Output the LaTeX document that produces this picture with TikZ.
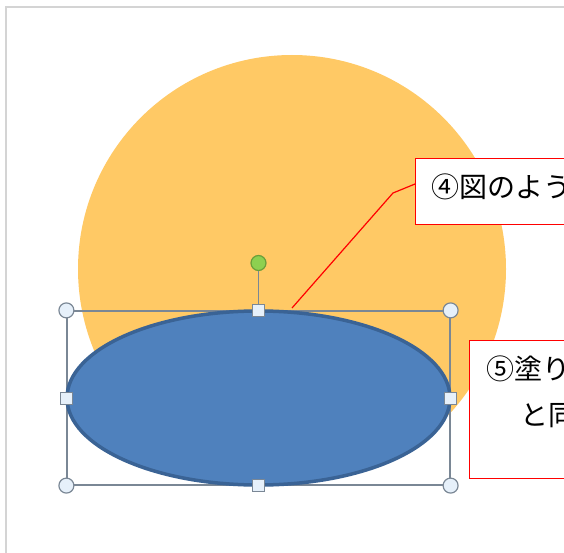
\documentclass[tikz,border=0pt]{standalone}
\usepackage{fontspec}
\newfontfamily\cjk{Noto Sans CJK JP}
\usetikzlibrary{shapes.geometric}
\definecolor{sunorange}{HTML}{FFC965}
\definecolor{ellblue}{HTML}{4F81BD}
\definecolor{ellborder}{HTML}{3A6395}
\definecolor{selgray}{HTML}{7A8795}
\definecolor{handlefill}{HTML}{E6F0FA}
\definecolor{framegray}{HTML}{D4D4D4}
\definecolor{rotgreen}{HTML}{8DD050}
\definecolor{rotborder}{HTML}{6A9E3A}
\tikzset{
  cornerhandle/.style={circle, draw=selgray, fill=handlefill, line width=1.2pt, minimum size=15pt, inner sep=0pt},
  sidehandle/.style={rectangle, draw=selgray, fill=handlefill, line width=1pt, minimum size=12pt, inner sep=0pt},
  callout/.style={rectangle, draw=red, line width=1.3pt, fill=white, anchor=north west, inner sep=0pt},
  calltext/.style={font=\cjk\fontsize{28}{34}\selectfont, anchor=west, inner sep=0pt},
}
\begin{document}
\begin{tikzpicture}[x=1pt,y=-1pt]
\useasboundingbox (0,0) rectangle (564,553);
\begin{scope}
\clip (0,0) rectangle (564,553);
\fill[white] (0,0) rectangle (564,553);
% frame
\draw[framegray, line width=1.5pt] (6,553) -- (6,7) -- (570,7);
% sun
\node[circle, fill=sunorange, minimum size=428pt, inner sep=0pt] (sun) at (292,269) {};
% selection box
\node[rectangle, draw=selgray, line width=1.2pt, minimum width=383pt, minimum height=174pt, inner sep=0pt] (sel) at (258.5,398) {};
% ellipse
\node[ellipse, fill=ellblue, draw=ellborder, line width=3.5pt, minimum width=383pt, minimum height=174pt, inner sep=0pt] (ell) at (258.5,398) {};
% rotation handle
\node[circle, fill=rotgreen, draw=rotborder, line width=1.2pt, minimum size=15pt, inner sep=0pt] (rot) at (258.5,263) {};
\draw[selgray, line width=1.2pt] (rot.south) -- (sel.north);
% handles
\node[cornerhandle] (hnw) at (sel.north west) {};
\node[cornerhandle] (hne) at (sel.north east) {};
\node[cornerhandle] (hsw) at (sel.south west) {};
\node[cornerhandle] (hse) at (sel.south east) {};
\node[sidehandle] (hn) at (sel.north) {};
\node[sidehandle] (hs) at (sel.south) {};
\node[sidehandle] (hw) at (sel.west) {};
\node[sidehandle] (he) at (sel.east) {};
% callout 1
\node[callout, minimum width=200pt, minimum height=66pt] (box1) at (415,158) {};
\node[calltext] (t1) at (431,187) {④図のよう};
\coordinate (tip1) at (292,308);
\coordinate (bend1) at (393,193);
\draw[red, line width=1.2pt] (tip1) -- (bend1) -- (box1.west |- 0,184);
% callout 2
\node[callout, minimum width=200pt, minimum height=138pt] (box2) at (469,340) {};
\node[calltext] (t2a) at (486,369) {⑤塗り};
\node[calltext] (t2b) at (520,416) {と同};
\end{scope}
\end{tikzpicture}
\end{document}
